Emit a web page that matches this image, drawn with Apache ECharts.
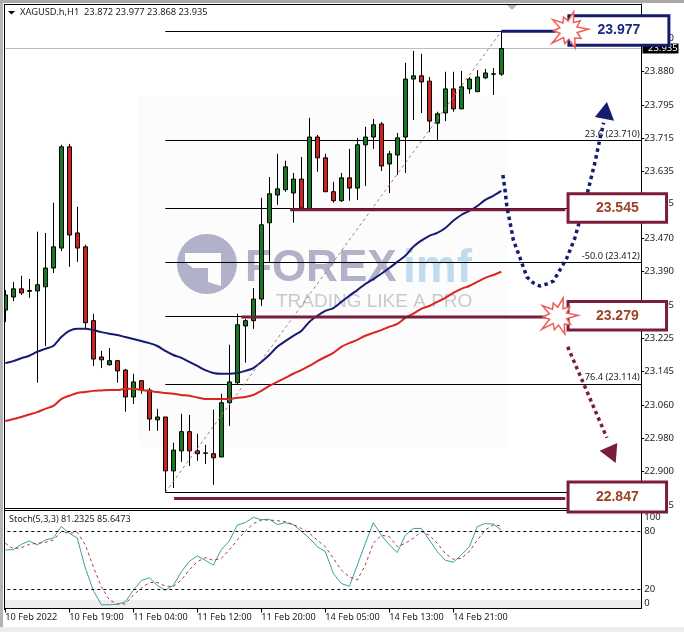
<!DOCTYPE html>
<html><head><meta charset="utf-8">
<style>html,body{margin:0;padding:0;background:#fff}#c{width:684px;height:632px}</style>
<script src="https://cdn.jsdelivr.net/npm/echarts@6/dist/echarts.min.js"></script>
</head><body><div id="c"></div>
<script>
const opens=[23.294,23.326,23.346,23.342,23.341,23.351,23.397,23.446,23.694,23.483,
23.449,23.268,23.179,23.160,23.170,23.147,23.081,23.121,23.098,23.025,
23.032,22.900,22.949,22.996,22.949,22.943,22.942,22.934,23.067,23.116,
23.255,23.268,23.321,23.508,23.576,23.589,23.581,23.615,23.542,23.718,
23.667,23.584,23.562,23.618,23.593,23.699,23.718,23.750,23.652,23.674,
23.718,23.860,23.868,23.855,23.752,23.777,23.836,23.787,23.836,23.829,
23.863,23.872,23.872];
const closes=[23.331,23.346,23.336,23.340,23.356,23.397,23.449,23.694,23.478,23.446,
23.263,23.174,23.172,23.170,23.145,23.081,23.118,23.098,23.027,23.032,
22.900,22.951,22.996,22.949,22.942,22.944,22.932,23.067,23.118,23.258,
23.268,23.321,23.503,23.579,23.591,23.645,23.615,23.544,23.718,23.667,
23.584,23.562,23.618,23.593,23.699,23.718,23.748,23.647,23.677,23.716,
23.860,23.868,23.853,23.757,23.775,23.836,23.787,23.841,23.860,23.865,
23.875,23.873,23.935];
const lows=[23.265,23.316,23.331,23.324,23.116,23.206,23.385,23.439,23.400,23.412,
23.250,23.157,23.152,23.158,23.116,23.045,23.064,23.089,22.998,22.998,
22.847,22.858,22.922,22.912,22.925,22.917,22.866,22.934,23.010,23.113,
23.165,23.248,23.304,23.412,23.552,23.584,23.508,23.544,23.542,23.633,
23.584,23.557,23.559,23.562,23.564,23.598,23.689,23.635,23.581,23.625,
23.630,23.760,23.777,23.730,23.711,23.757,23.780,23.787,23.824,23.829,
23.860,23.821,23.868];
const highs=[23.343,23.363,23.378,23.370,23.486,23.483,23.557,23.699,23.701,23.547,
23.454,23.285,23.194,23.201,23.172,23.150,23.138,23.121,23.103,23.052,
23.032,22.969,23.040,23.037,22.991,22.964,23.050,23.089,23.209,23.285,
23.272,23.348,23.569,23.620,23.677,23.660,23.630,23.669,23.765,23.723,
23.677,23.608,23.630,23.689,23.716,23.743,23.762,23.755,23.684,23.728,
23.900,23.929,23.922,23.865,23.780,23.878,23.878,23.880,23.865,23.882,
23.885,23.887,23.977];
const maBlue=[23.164,23.169,23.176,23.182,23.192,23.199,23.206,23.228,23.243,23.248,
23.248,23.245,23.240,23.236,23.233,23.228,23.223,23.218,23.213,23.206,
23.194,23.184,23.177,23.167,23.157,23.147,23.140,23.138,23.138,23.140,
23.145,23.152,23.167,23.184,23.204,23.218,23.231,23.243,23.265,23.280,
23.292,23.299,23.314,23.329,23.343,23.358,23.370,23.383,23.397,23.412,
23.427,23.449,23.464,23.476,23.483,23.495,23.513,23.527,23.537,23.549,
23.564,23.574,23.586];
const maRed=[23.022,23.027,23.032,23.038,23.044,23.052,23.059,23.076,23.084,23.091,
23.093,23.096,23.097,23.098,23.098,23.101,23.101,23.098,23.096,23.093,
23.091,23.089,23.086,23.084,23.080,23.076,23.076,23.076,23.076,23.079,
23.081,23.086,23.096,23.108,23.118,23.128,23.138,23.147,23.157,23.169,
23.179,23.189,23.204,23.213,23.221,23.231,23.238,23.245,23.253,23.260,
23.275,23.285,23.297,23.304,23.314,23.324,23.336,23.346,23.353,23.363,
23.373,23.380,23.388];
const stochK=[60.7,61,66.5,70,66,71,73,85,78,73,42,19,4,4,4.5,7,19,29,32,24,19,24,38,49,54.5,50,45,61,70,86.5,
89,94.5,92,92.5,87,89,87,80,73,64,59,36.5,26,23,45,67.5,89,76,66,58,76,83,83,71,59,50,48,55.5,64,85,88,87.5,81.23];
const stochD=[67.6,62,63,66.5,67.6,68.6,71,79.7,78,79,66,43.4,22.7,9,4.8,4.8,14,21,27,27,23.4,22.7,29.6,40,48.6,52.7,50,52,60.7,71,
80,88,91.7,91.7,91,90,87,83,78,71,64,52,40,33,29.6,45,67.6,76,74.5,64,67.6,72.8,79.7,76,67.6,57,51,52,59,71,81.4,86.6,85.65];
const timeLabels=['10 Feb 2022','10 Feb 19:00','11 Feb 04:00','11 Feb 12:00','11 Feb 20:00','14 Feb 05:00','14 Feb 13:00','14 Feb 21:00'];
const priceTicks=[23.96,23.88,23.795,23.715,23.635,23.555,23.47,23.39,23.305,23.225,23.145,23.06,22.98,22.9,22.815];
const stochTicks=[0,20,80,100];
const fibLevels=[23.977,23.710,23.545,23.412,23.279,23.114,22.847];
const fibLabelLevels=[23.710,23.412,23.114];
const fibLabels=['23.6 (23.710)','-50.0 (23.412)','76.4 (23.114)'];
const bidPrice=23.935;
const fibTrend=[[20,22.847],[62,23.977]];
const thickMaroon=[[[35.6,23.540],[70,23.540]],[[29.5,23.277],[68,23.277]],[[21.1,22.832],[70,22.832]]];
const thickNavy=[[62,23.977],[68.8,23.977]];
const pathUp=[[62.2,23.625],[62.46,23.589],[62.7,23.547],[63.1,23.508],[63.5,23.466],[64.3,23.424],[65.2,23.375],[65.96,23.361],[66.8,23.353],[67.7,23.358],[68.5,23.365],[69.1,23.385],[69.7,23.405],[70.2,23.422],[71.2,23.471],[72.8,23.584],[73.7,23.655],[74.3,23.711],[74.8,23.753]];
const pathDown=[[70.3,23.204],[75.2,22.981]];
const headUp=[[75.2,23.804],[73.7,23.767],[76.1,23.758]];
const headDown=[[76.3,22.919],[74.3,22.949],[76.5,22.968]];
const boxCentres=[[76.7,23.979],[76.5,23.544],[76.5,23.280],[76.5,22.836]];
const boxTexts=['23.977','23.545','23.279','22.847'];
const starCentres=[[70.4,23.980],[69.1,23.279]];

const NBARS=80;
const cats=[];for(let i=0;i<NBARS;i++){cats.push(i%8===0&&timeLabels[i/8]?timeLabels[i/8]:'b'+i);}
const tickShown=(i)=>i%8===0&&!!timeLabels[i/8];
const candles=opens.map((o,i)=>[o,closes[i],lows[i],highs[i]]);
const FONT='"Noto Sans"';
const NAVY='#141b70',MAROON='#7b1c3b',RUST='#9c4326',STAR='#ec5f57';
const spikes=[19,9,15,9,20,9,15,10,19,9,14,9,21,9,15,9,19,9,14,9];

function fibItem(p,api){
  const a=api.coord([20,api.value(1)]),b=api.coord([79.5,api.value(1)]);
  return {type:'line',shape:{x1:a[0],y1:Math.round(a[1])+.5,x2:b[0],y2:Math.round(a[1])+.5},style:{stroke:'#000',lineWidth:1}};
}
function boxItem(p,api){
  const c=api.coord([api.value(0),api.value(1)]);
  const i=p.dataIndex,w=i===0?100:98.5,h=i===0?29.5:i===3?30:28.5,col=i===0?NAVY:MAROON;
  return {type:'group',children:[
    {type:'rect',shape:{x:c[0]-w/2,y:c[1]-h/2,width:w,height:h},style:{fill:'#fff',stroke:col,lineWidth:3}},
    {type:'text',style:{x:c[0],y:c[1],text:boxTexts[i],align:'center',verticalAlign:'middle',fill:i===0?'#1b2a7c':RUST,font:'bold 14px "Liberation Sans"'}}
  ]};
}
function starItem(p,api){
  const c=api.coord([api.value(0),api.value(1)]);
  const pts=spikes.map((r,i)=>{const t=i/spikes.length*2*Math.PI-1.3;return [c[0]+r*Math.cos(t),c[1]+r*Math.sin(t)];});
  return {type:'polygon',shape:{points:pts},style:{fill:'#fff',stroke:STAR,lineWidth:1.5}};
}
function headItem(list,col){return (p,api)=>({type:'polygon',shape:{points:list.map(q=>api.coord(q))},style:{fill:col}});}
function fibText(p,api){
  const c=api.coord([79.3,api.value(1)]);
  return {type:'text',style:{x:c[0],y:c[1]-6,text:fibLabels[p.dataIndex],align:'right',verticalAlign:'middle',fill:'#222',font:'9.2px '+FONT}};
}
function bidTag(p,api){
  const c=api.coord([0,api.value(1)]);
  return {type:'group',children:[
    {type:'rect',shape:{x:642.5,y:c[1]-5,width:36,height:10},style:{fill:'#000'}},
    {type:'text',style:{x:648,y:c[1],text:String(bidPrice.toFixed(3)),verticalAlign:'middle',fill:'#fff',font:'9.5px '+FONT}}
  ]};
}
const ovX=2; // overlay value axis index on the price grid
function lineS(data,col,w,z,dash){return {type:'line',xAxisIndex:ovX,yAxisIndex:0,data,showSymbol:false,symbol:'none',silent:true,clip:false,z,animation:false,lineStyle:{color:col,width:w,type:dash||'solid',cap:'butt'}};}
function customS(data,fn,z){return {type:'custom',xAxisIndex:ovX,yAxisIndex:0,data,renderItem:fn,z,silent:true,clip:false,animation:false,encode:{x:0,y:1}};}

const chart=echarts.init(document.getElementById('c'),null,{renderer:'canvas'});
chart.setOption({
  animation:false,backgroundColor:'#fff',
  textStyle:{fontFamily:FONT},
  grid:[{left:1.3,top:4,width:640,height:504},{left:1.3,top:512,width:640,height:96.6}],
  xAxis:[
    {type:'category',gridIndex:0,data:cats,show:false,boundaryGap:true,axisLine:{onZero:false}},
    {type:'category',gridIndex:1,data:cats,boundaryGap:true,
      axisLine:{show:true,onZero:false,lineStyle:{color:'#000'}},
      axisTick:{show:true,length:4,alignWithLabel:true,interval:(i)=>tickShown(i),lineStyle:{color:'#000'}},
      axisLabel:{interval:(i)=>tickShown(i),align:'left',margin:4,fontSize:9.2,color:'#222',fontFamily:FONT,hideOverlap:false}},
    {type:'value',gridIndex:0,min:-0.5,max:NBARS-0.5,show:false,splitLine:{show:false},axisLine:{onZero:false}}
  ],
  yAxis:[
    {type:'value',gridIndex:0,position:'right',min:22.809,max:24.044,splitLine:{show:false},
      axisLine:{show:true,onZero:false,lineStyle:{color:'#000'}},
      axisTick:{show:true,length:3,customValues:priceTicks,lineStyle:{color:'#000'}},
      axisLabel:{customValues:priceTicks,margin:3,fontSize:9.5,color:'#222',fontFamily:FONT,formatter:v=>v.toFixed(3)}},
    {type:'value',gridIndex:1,position:'right',min:0,max:100,splitLine:{show:false},
      axisLine:{show:true,onZero:false,lineStyle:{color:'#000'}},
      axisTick:{show:false},
      axisLabel:{customValues:stochTicks,margin:3,fontSize:9.5,color:'#222',fontFamily:FONT,verticalAlignMinLabel:'bottom',verticalAlignMaxLabel:'top'}}
  ],
  series:[
    customS(fibLevels.map(v=>[20,v]),fibItem,1),
    customS([[0,bidPrice]],bidTag,1),
    {type:'candlestick',xAxisIndex:0,yAxisIndex:0,data:candles,barWidth:4,z:2,silent:true,
      itemStyle:{color:'#157a1f',color0:'#d2201c',borderColor:'#000',borderColor0:'#000',borderWidth:1}},
    {type:'line',xAxisIndex:0,yAxisIndex:0,data:maBlue,smooth:0.3,showSymbol:false,symbol:'none',z:3,silent:true,lineStyle:{color:NAVY,width:2}},
    {type:'line',xAxisIndex:0,yAxisIndex:0,data:maRed,smooth:0.3,showSymbol:false,symbol:'none',z:3,silent:true,lineStyle:{color:'#d9261f',width:2}},
    lineS(fibTrend,'#b5737f',1,3,[3,3]),
    ...thickMaroon.map(s=>lineS(s,MAROON,3,4)),
    lineS(thickNavy,NAVY,3,4),
    customS(fibLabelLevels.map(v=>[79.3,v]),fibText,4),
    lineS(pathUp,NAVY,3.5,5,[3.5,3.5]),
    lineS(pathDown,MAROON,3.5,5,[3.5,3.5]),
    customS([headUp[0]],headItem(headUp,NAVY),5),
    customS([headDown[0]],headItem(headDown,MAROON),5),
    customS(boxCentres,boxItem,6),
    customS(starCentres,starItem,7),
    {type:'line',xAxisIndex:1,yAxisIndex:1,data:stochK,showSymbol:false,symbol:'none',z:3,silent:true,lineStyle:{color:'#3c9fa3',width:1},
      markLine:{silent:true,symbol:'none',label:{show:false},animation:false,lineStyle:{color:'#000',type:[3,3],width:1},data:[{yAxis:80},{yAxis:20}]}},
    {type:'line',xAxisIndex:1,yAxisIndex:1,data:stochD,showSymbol:false,symbol:'none',z:3,silent:true,lineStyle:{color:'#a83a4a',width:1,type:[3,3]}}
  ],
  graphic:[
    {type:'rect',z:0,silent:true,shape:{x:138,y:96,width:370,height:351},style:{fill:'#fcfcfd'}},
    {type:'circle',z:0,silent:true,shape:{cx:207,cy:264,r:30},style:{fill:'#b1b2c9'}},
    {type:'polygon',z:0,silent:true,shape:{points:[[185,253],[221,253],[221,286],[208,282],[208,268],[193,268],[185,262]]},style:{fill:'#fcfcfd'}},
    {type:'text',z:0,silent:true,style:{x:245,y:269,text:'FOREX',verticalAlign:'middle',fill:'#b1b2c9',font:'bold 44px "Liberation Sans"'}},
    {type:'text',z:0,silent:true,style:{x:403,y:269,text:'imf',verticalAlign:'middle',fill:'#bfdbec',font:'bold 46px "Liberation Sans"'}},
    {type:'text',z:0,silent:true,style:{x:276,y:302,text:'TRADING LIKE A PRO',verticalAlign:'middle',fill:'#c9c9d1',font:'19px "Liberation Sans"'}},
    {type:'rect',z:0,silent:true,shape:{x:5,y:600,width:636,height:9},style:{fill:'#eeeeee'}},
    {type:'line',z:0,silent:true,shape:{x1:5,y1:48.5,x2:641,y2:48.5},style:{stroke:'#bdbdbd',lineWidth:1}},
    {type:'polygon',z:1,silent:true,shape:{points:[[507,5],[517,5],[512,10]]},style:{fill:'#b5b5b5'}},
    {type:'text',z:20,silent:true,style:{x:20,y:12.5,text:'XAGUSD.h,H1  23.872 23.977 23.868 23.935',verticalAlign:'middle',fill:'#222',font:'9.3px '+FONT}},
    {type:'polygon',z:20,silent:true,shape:{points:[[8,11],[15,11],[11.5,14.5]]},style:{fill:'#000'}},
    {type:'text',z:20,silent:true,style:{x:9,y:519.5,text:'Stoch(5,3,3) 81.2325 85.6473',verticalAlign:'middle',fill:'#222',font:'9.1px '+FONT}},
    {type:'rect',z:50,silent:true,shape:{x:0,y:0,width:4,height:632},style:{fill:'#fff'}},
    {type:'rect',z:51,silent:true,shape:{x:0,y:0,width:3,height:632},style:{fill:'#b4b4b4'}},
    {type:'rect',z:51,silent:true,shape:{x:0,y:0,width:684,height:3},style:{fill:'#a9a9a9'}},
    {type:'rect',z:51,silent:true,shape:{x:0,y:627,width:684,height:5},style:{fill:'#ececec'}},
    {type:'line',z:50,silent:true,shape:{x1:4.5,y1:4,x2:4.5,y2:610},style:{stroke:'#000',lineWidth:1}},
    {type:'line',z:1,silent:true,shape:{x1:4,y1:4.5,x2:642,y2:4.5},style:{stroke:'#000',lineWidth:1}},
    {type:'line',z:1,silent:true,shape:{x1:4,y1:508.5,x2:642,y2:508.5},style:{stroke:'#000',lineWidth:1}},
    {type:'line',z:1,silent:true,shape:{x1:4,y1:510.5,x2:642,y2:510.5},style:{stroke:'#000',lineWidth:1}}
  ]
});
</script></body></html>
